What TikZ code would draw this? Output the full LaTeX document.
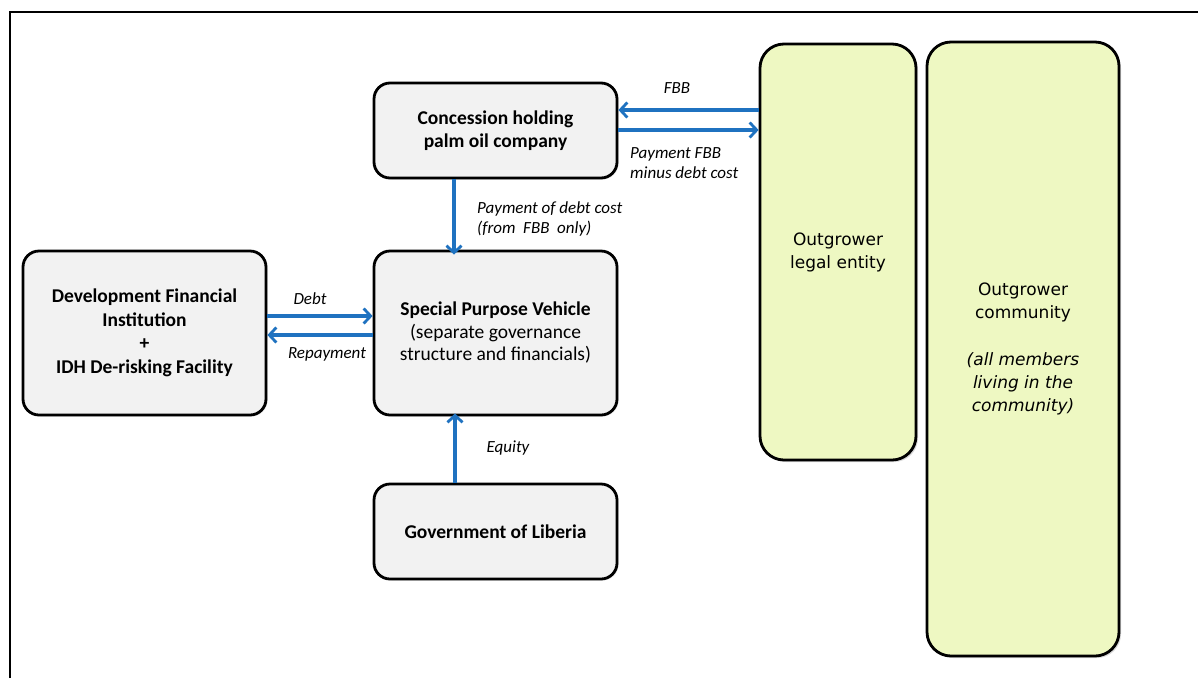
\documentclass[tikz,border=0pt]{standalone}
\usepackage{fontspec}
\setmainfont{Carlito}
\newfontfamily\verd{DejaVu Sans}
\usetikzlibrary{arrows.meta,shadows}
\definecolor{boxgray}{HTML}{F2F2F2}
\definecolor{boxgreen}{HTML}{EEF8C2}
\definecolor{arrowblue}{HTML}{1F72C0}
\tikzset{
  x=1pt,y=-1pt,
  graybox/.style={draw=black,line width=2.8pt,fill=boxgray,rounded corners=16pt,
    align=center,inner sep=0pt,font=\fontsize{19.5}{23.5}\selectfont\bfseries,
    drop shadow={shadow xshift=1.5pt,shadow yshift=-1.5pt,opacity=0.25}},
  greenbox/.style={draw=black,line width=2.8pt,fill=boxgreen,rounded corners=24pt,
    align=center,inner sep=0pt,font=\verd\fontsize{17}{23}\selectfont,
    drop shadow={shadow xshift=2pt,shadow yshift=-2pt,opacity=0.3}},
  flow/.style={draw=arrowblue,line width=3.2pt,-{Straight Barb[length=7pt,width=15pt,line width=2.8pt]}},
  lbl/.style={font=\fontsize{17}{20.5}\selectfont\itshape,inner sep=0pt,align=left},
}
\begin{document}
\begin{tikzpicture}
\useasboundingbox (0,0) rectangle (1198,678);
\draw[line width=2pt] (10,678) -- (10,12) -- (1198,12);

\node[graybox,minimum width=243pt,minimum height=95pt] (conc) at (495.5,130.5) {Concession holding\\palm oil company};
\node[graybox,minimum width=243pt,minimum height=164pt] (spv) at (495.5,333)
  {Special Purpose Vehicle\\[-1pt]{\mdseries (separate governance}\\[-1pt]{\mdseries structure and financials)}};
\node[graybox,minimum width=243pt,minimum height=164pt] (dfi) at (144.5,333)
  {Development Financial\\Institution\\+\\IDH De-risking Facility};
\node[graybox,minimum width=243pt,minimum height=95pt] (gov) at (495.5,531.5) {Government of Liberia};
\node[greenbox,minimum width=156pt,minimum height=416pt] (ole) at (838,252) {\raisebox{0pt}{Outgrower}\\legal entity};
\node[greenbox,minimum width=192pt,minimum height=614pt] (oc) at (1023,349)
  {Outgrower\\community\\[24pt]{\itshape (all members}\\{\itshape living in the}\\{\itshape community)}};

\coordinate (a1s) at (760,110); \coordinate (a1e) at (617,110);
\draw[flow] (ole.west |- a1s) -- (conc.east |- a1e);
\draw[flow] (conc.east |- 0,130) -- (ole.west |- 0,130);
\draw[flow] (conc.south -| 454,0) -- ([yshift=-5pt]spv.north -| 454,0);
\draw[flow] (dfi.east |- 0,316) -- (spv.west |- 0,316);
\draw[flow] (spv.west |- 0,335) -- (dfi.east |- 0,335);
\draw[flow] (gov.north -| 455,0) -- ([yshift=3pt]spv.south -| 455,0);

\node[lbl] (lfbb) at (677,88) {FBB};
\node[lbl,anchor=west] (lpay) at (630,163) {Payment FBB\\minus debt cost};
\node[lbl,anchor=west] (ldebtc) at (477,219) {Payment of debt cost\\(from\ \ FBB\ \ only)};
\node[lbl] (ldebt) at (310,299) {Debt};
\node[lbl] (lrep) at (327,354) {Repayment};
\node[lbl] (leq) at (508,448) {Equity};
\end{tikzpicture}
\end{document}
